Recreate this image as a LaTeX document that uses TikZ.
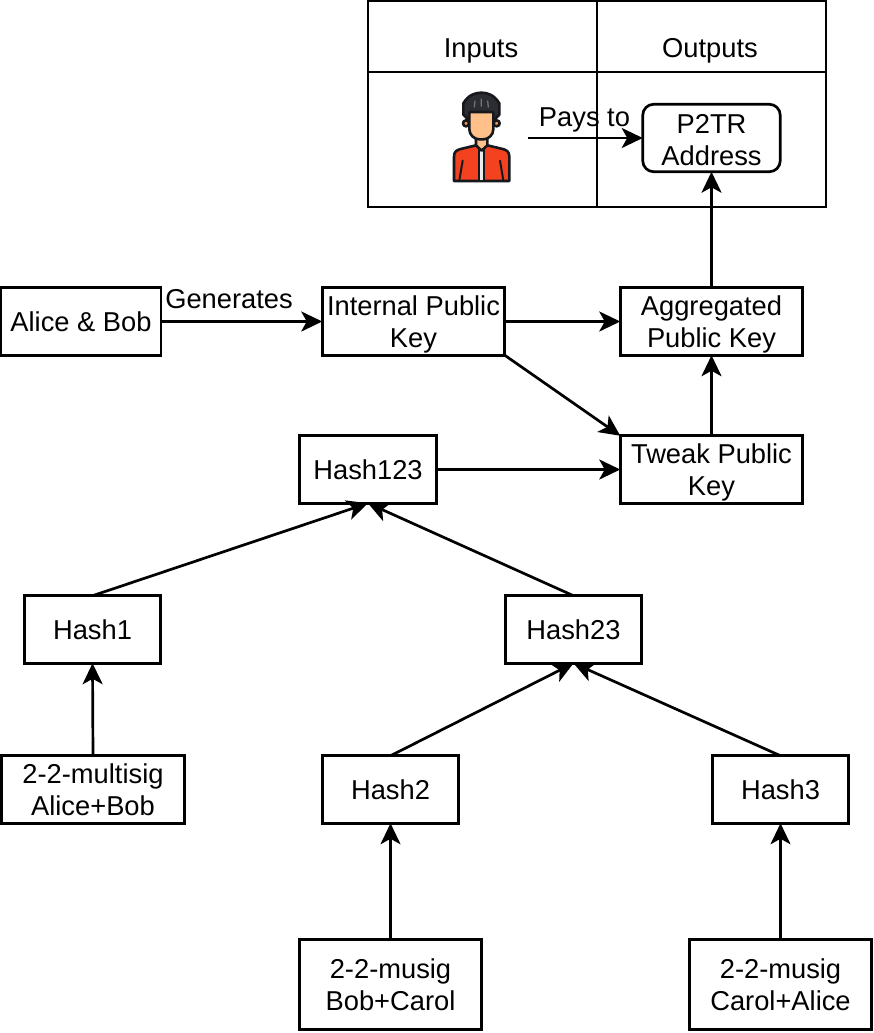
\documentclass[tikz,border=0pt]{standalone}
\usepackage{fontspec}
\setmainfont{Liberation Sans}
\usetikzlibrary{arrows.meta}
\definecolor{hair}{HTML}{2B2D33}
\definecolor{skin}{HTML}{FFC08A}
\definecolor{skindark}{HTML}{F09A5C}
\definecolor{jacket}{HTML}{F4411F}
\definecolor{outline}{HTML}{16181C}
\newcommand{\tl}{\rule{0pt}{25pt}}
\newcommand{\tla}{\rule{0pt}{23.5pt}}
\tikzset{
  base/.style={line width=2.7pt,draw=black,outer sep=0pt,inner sep=0pt,align=center,
    font=\fontsize{27.3}{32}\selectfont},
  keybox/.style={base,rectangle,minimum width=136.5pt,minimum height=67.5pt},
  widebox/.style={base,rectangle,minimum width=182.5pt,minimum height=67.5pt},
  tallbox/.style={base,rectangle,minimum width=182.5pt,minimum height=90.5pt},
  addrbox/.style={base,rectangle,rounded corners=11pt,minimum width=137.5pt,minimum height=67.5pt},
  cell/.style={base,rectangle,anchor=center},
  link/.style={line width=2.7pt,draw=black,-{Stealth[length=21pt,width=20pt,inset=5.5pt]}},
  lbl/.style={font=\fontsize{27.3}{32}\selectfont,inner sep=0pt},
  ink/.style={draw=outline,line width=2.6pt,line join=round,line cap=round}
}
\begin{document}
\begin{tikzpicture}[x=1pt,y=-1pt]
\useasboundingbox (0,0) rectangle (873,1033);
% table
\node[cell,minimum width=229pt,minimum height=71pt] (c1) at (482.5,36.5) {};
\node[cell,minimum width=229pt,minimum height=71pt] (c2) at (711.5,36.5) {};
\node[cell,minimum width=229pt,minimum height=135pt] (c3) at (482.5,139.5) {};
\node[cell,minimum width=229pt,minimum height=135pt] (c4) at (711.5,139.5) {};
\node[lbl] (tinputs) at (481,50.5) {Inputs};
\node[lbl] (toutputs) at (710,50.5) {Outputs};
% person
\begin{scope}[shift={(430,80)},x=0.3333pt,y=-0.3333pt]
  \filldraw[ink,fill=jacket] (72,303) -- (72,230) .. controls (72,215) and (80,210) .. (92,207)
    -- (138,196) -- (172,196) -- (218,207) .. controls (230,210) and (238,215) .. (238,230) -- (238,303) -- cycle;
  \fill[white!85!gray] (147,205) rectangle (162,301);
  \draw[ink,line width=1.4pt] (147,205) -- (147,301) (162,205) -- (162,301);
  \draw[ink,line width=2pt] (98,242) -- (88,301) (210,242) -- (220,301);
  \filldraw[ink,fill=skin] (138,170) -- (138,196) -- (155,212) -- (172,196) -- (172,170) -- cycle;
  \filldraw[ink,fill=skindark] (108,130) circle (9);
  \filldraw[ink,fill=skindark] (200,130) circle (9);
  \filldraw[ink,fill=hair] (118,122) -- (100,104) -- (100,70) .. controls (115,45) and (135,38) .. (154,38)
    .. controls (173,38) and (193,45) .. (208,70) -- (208,104) -- (190,122) -- cycle;
  \draw[draw=hair!65!white,line width=1.2pt] (135,62) -- (133,82) (154,56) -- (154,80) (173,62) -- (175,82);
  \filldraw[ink,fill=skin] (118,96) -- (190,96) -- (190,148) .. controls (190,165) and (175,178) .. (160,178)
    -- (148,178) .. controls (133,178) and (118,165) .. (118,148) -- cycle;
\end{scope}
% nodes
\node[addrbox] (p2tr) at (711.5,138) {\tla P2TR\\Address};
\node[base,rectangle,minimum width=160pt,minimum height=67.5pt] (alice) at (81,321.5) {Alice \& Bob};
\node[widebox] (internal) at (413.5,321.5) {\tl Internal Public\\Key};
\node[widebox] (agg) at (711.5,321.5) {\tl Aggregated\\Public Key};
\node[widebox] (tweak) at (711.5,469.5) {\tl Tweak Public\\Key};
\node[keybox] (h123) at (368,469.5) {Hash123};
\node[keybox] (h1) at (92.5,629.5) {Hash1};
\node[keybox] (h23) at (573.5,629.5) {Hash23};
\node[widebox] (multi) at (93,789.5) {2-2-multisig\\Alice+Bob};
\node[keybox] (h2) at (390.5,789.5) {Hash2};
\node[keybox] (h3) at (780.5,789.5) {Hash3};
\node[tallbox] (m1) at (390.5,984.5) {2-2-musig\\Bob+Carol};
\node[tallbox] (m2) at (780.5,984.5) {2-2-musig\\Carol+Alice};
\coordinate (pay) at (528,138);
% connectors
\draw[link] (pay) -- (p2tr.west);
\node[lbl] (paylabel) at (584.5,119.5) {Pays to};
\draw[link] (agg.north) -- (p2tr.south);
\draw[link] (alice.east) -- (internal.west);
\node[lbl] (genlabel) at (229,299) {Generates};
\draw[link] (internal.east) -- (agg.west);
\draw[link] (internal.south east) -- (tweak.north west);
\draw[link] (tweak.north) -- (agg.south);
\draw[link] (h123.east) -- (tweak.west);
\draw[link] (h1.north) -- (h123.south);
\draw[link] (h23.north) -- (h123.south);
\draw[link] (multi.north) -- (h1.south);
\draw[link] (h2.north) -- (h23.south);
\draw[link] (h3.north) -- (h23.south);
\draw[link] (m1.north) -- (h2.south);
\draw[link] (m2.north) -- (h3.south);
\end{tikzpicture}
\end{document}
